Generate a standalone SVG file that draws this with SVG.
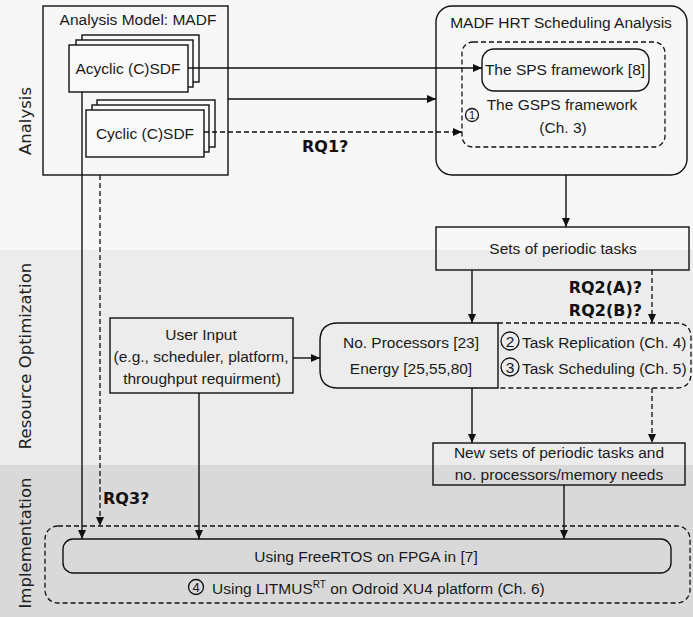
<svg xmlns="http://www.w3.org/2000/svg" width="693" height="617" viewBox="0 0 693 617">
<defs>
<marker id="ah" markerWidth="10" markerHeight="8" refX="9" refY="4" orient="auto" markerUnits="userSpaceOnUse">
<path d="M0,0 L9,4 L0,8 Z" fill="#111"/>
</marker>
<style>
.t{font-family:"Liberation Sans",Arial,sans-serif;font-size:15.5px;fill:#1a1a1a}
.m{text-anchor:middle}
.b{font-family:"DejaVu Sans",sans-serif;font-weight:bold;font-size:16px;fill:#111}
.band{font-family:"DejaVu Sans",sans-serif;font-size:16.5px;fill:#222;text-anchor:middle}
.box{fill:none;stroke:#111;stroke-width:1.4}
.fbox{fill:#f9f9f9;stroke:#111;stroke-width:1.4}
.dbox{fill:none;stroke:#111;stroke-width:1.3;stroke-dasharray:5,3}
.c{fill:none;stroke:#111;stroke-width:1.3}
.s{fill:none;stroke:#111;stroke-width:1.4}
.d{fill:none;stroke:#111;stroke-width:1.3;stroke-dasharray:5,3}
</style>
</defs>
<g id="bands">
<rect x="0" y="0" width="693" height="250" fill="#f7f7f7"/>
<rect x="0" y="250" width="693" height="215" fill="#ececec"/>
<rect x="0" y="465" width="693" height="152" fill="#d9d9d9"/>
<text class="band" transform="translate(31,121) rotate(-90)">Analysis</text>
<text class="band" transform="translate(31,356) rotate(-90)">Resource Optimization</text>
<text class="band" transform="translate(31,543) rotate(-90)">Implementation</text>
</g>
<g id="analysis-model">
<rect class="box" x="43" y="6" width="185" height="169"/>
<text class="t m" x="138" y="25">Analysis Model: MADF</text>
</g>
<g id="acyclic">
<rect class="fbox" x="82" y="35" width="117" height="47"/>
<rect class="fbox" x="76" y="40" width="117" height="47"/>
<rect class="fbox" x="69" y="45" width="119" height="47"/>
<text class="t m" x="128" y="74">Acyclic (C)SDF</text>
</g>
<g id="cyclic">
<rect class="fbox" x="97" y="100" width="118" height="47"/>
<rect class="fbox" x="92" y="105" width="117" height="47"/>
<rect class="fbox" x="86" y="110" width="118" height="47"/>
<text class="t m" x="145" y="139">Cyclic (C)SDF</text>
</g>
<g id="madf-hrt">
<rect class="box" x="436" y="6" width="251" height="169" rx="16"/>
<text class="t m" x="561" y="28">MADF HRT Scheduling Analysis</text>
</g>
<g id="gsps">
<rect class="dbox" x="462" y="42" width="203" height="105" rx="11"/>
<text class="t m" x="562" y="110">The GSPS framework</text>
<text class="t m" x="563" y="133">(Ch. 3)</text>
<circle class="c" cx="472" cy="115" r="6.5"/>
<text class="t m" x="472" y="119" style="font-size:11px">1</text>
</g>
<g id="sps">
<rect class="box" x="482" y="49" width="167" height="42" rx="12"/>
<text class="t m" x="565" y="75">The SPS framework [8]</text>
</g>
<g id="sets">
<rect class="box" x="436" y="227" width="253" height="43"/>
<text class="t m" x="563" y="254">Sets of periodic tasks</text>
</g>
<g id="user-input">
<rect class="box" x="110" y="318" width="183" height="75"/>
<text class="t m" x="201" y="340">User Input</text>
<text class="t m" x="201" y="362">(e.g., scheduler, platform,</text>
<text class="t m" x="202" y="384">throughput requirment)</text>
</g>
<g id="replication-scheduling">
<path class="dbox" d="M498,323 H676 Q691,323 691,338 V373 Q691,388 676,388 H498"/>
<circle class="c" cx="510" cy="341" r="9"/>
<text class="t m" x="510" y="347">2</text>
<circle class="c" cx="510" cy="367" r="9"/>
<text class="t m" x="510" y="373">3</text>
<text class="t" x="522" y="348">Task Replication (Ch. 4)</text>
<text class="t" x="522" y="374">Task Scheduling (Ch. 5)</text>
</g>
<g id="processors-energy">
<path class="box" d="M338,323 H498 V388 H338 Q320,388 320,370 V341 Q320,323 338,323 Z"/>
<text class="t m" x="411" y="348">No. Processors [23]</text>
<text class="t m" x="411" y="374">Energy [25,55,80]</text>
</g>
<g id="new-sets">
<rect class="box" x="433" y="443" width="252" height="42"/>
<text class="t m" x="559" y="458">New sets of periodic tasks and</text>
<text class="t m" x="559" y="480">no. processors/memory needs</text>
</g>
<g id="implementation">
<rect class="dbox" x="45" y="526" width="645" height="77" rx="13"/>
<rect class="box" x="63" y="539" width="608" height="34" rx="10"/>
<text class="t m" x="366" y="562">Using FreeRTOS on FPGA in [7]</text>
<circle class="c" cx="196" cy="587" r="7.5"/>
<text class="t m" x="196" y="592" style="font-size:13px">4</text>
<text class="t" x="212" y="594">Using LITMUS<tspan dy="-6" style="font-size:10px">RT</tspan><tspan dy="6"> on Odroid XU4 platform (Ch. 6)</tspan></text>
</g>
<g id="connectors">
<line class="s" x1="188" y1="68" x2="482" y2="68" marker-end="url(#ah)"/>
<line class="s" x1="228" y1="99" x2="436" y2="99" marker-end="url(#ah)"/>
<line class="d" x1="204" y1="132" x2="462" y2="132" marker-end="url(#ah)"/>
<line class="s" x1="566" y1="175" x2="566" y2="227" marker-end="url(#ah)"/>
<line class="s" x1="472" y1="270" x2="472" y2="323" marker-end="url(#ah)"/>
<line class="d" x1="652" y1="270" x2="652" y2="323" marker-end="url(#ah)"/>
<line class="s" x1="293" y1="358" x2="320" y2="358" marker-end="url(#ah)"/>
<line class="s" x1="199" y1="393" x2="199" y2="539" marker-end="url(#ah)"/>
<line class="s" x1="472" y1="388" x2="472" y2="443" marker-end="url(#ah)"/>
<line class="d" x1="652" y1="388" x2="652" y2="443" marker-end="url(#ah)"/>
<line class="s" x1="564" y1="485" x2="564" y2="539" marker-end="url(#ah)"/>
<line class="s" x1="82" y1="92" x2="82" y2="539" marker-end="url(#ah)"/>
<line class="d" x1="100" y1="175" x2="100" y2="526" marker-end="url(#ah)"/>
<text class="b" x="302" y="152">RQ1?</text>
<text class="b" x="642" y="293" text-anchor="end">RQ2(A)?</text>
<text class="b" x="642" y="316" text-anchor="end">RQ2(B)?</text>
<text class="b" x="103" y="504">RQ3?</text>
</g>
</svg>
